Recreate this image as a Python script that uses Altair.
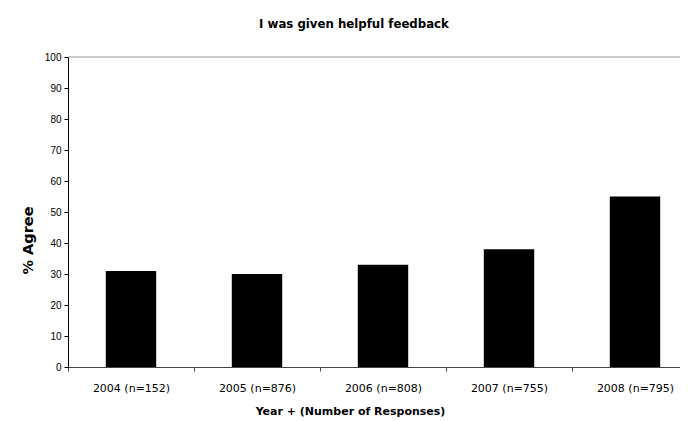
import altair as alt
import pandas as pd

categories = ["2004 (n=152)", "2005 (n=876)", "2006 (n=808)", "2007 (n=755)", "2008 (n=795)"]
values = [31, 30, 33, 38, 55]

df = pd.DataFrame({"cat": categories, "val": values})

FONT = "Liberation Sans"
WIDE = "DejaVu Sans"

x_enc = alt.X("cat:N", sort=categories,
              scale=alt.Scale(paddingInner=0, paddingOuter=0, range=[0, 630]),
              axis=alt.Axis(title="Year + (Number of Responses)", labelAngle=0,
                            tickBand="extent", labelFontSize=11, labelFont=WIDE,
                            labelColor="#000", titleFont=WIDE, titleFontSize=11,
                            titleFontWeight="bold", titleColor="#000",
                            domainColor="#444", tickColor="#444", tickSize=4,
                            labelPadding=11, titlePadding=12, titleX=282))

y_scale = alt.Scale(domain=[0, 100])

bars = alt.Chart(df).mark_bar(color="black", width=alt.RelativeBandSize(0.4)).encode(
    x=x_enc,
    y=alt.Y("val:Q", scale=y_scale,
            axis=alt.Axis(title="% Agree", values=list(range(0, 101, 10)), grid=False,
                          labelFontSize=10, labelFont=FONT, labelColor="#000",
                          titleFont=WIDE, titleFontSize=14.5, titleFontWeight="bold",
                          titleColor="#000", domainColor="#000", tickColor="#000",
                          tickSize=4, labelPadding=3, titlePadding=9, titleY=183)),
)

top = alt.Chart(pd.DataFrame({"y": [100]})).mark_rule(color="#999", strokeWidth=1).encode(
    y=alt.value(0),
    x=alt.value(0), x2=alt.value(630),
)

chart = alt.layer(bars, top).properties(
    width=612, height=310,
    title=alt.TitleParams("I was given helpful feedback", font=WIDE, fontSize=11.75,
                          fontWeight="bold", color="#000", offset=21, anchor="middle",
                          dx=-20),
    autosize=alt.AutoSizeParams(type="none"),
    padding={"left": 60, "top": 49, "right": 0, "bottom": 52},
).configure_view(stroke=None)

chart.save("out.html", embed_options={"renderer": "svg", "actions": False})
